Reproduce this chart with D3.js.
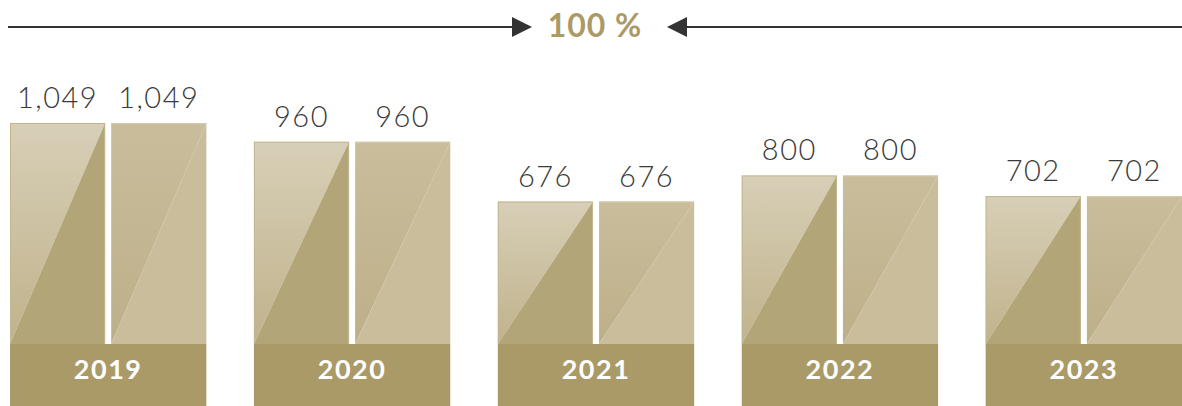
<!DOCTYPE html>
<html>
<head>
<meta charset="utf-8">
<script src="https://cdn.jsdelivr.net/npm/d3@7"></script>
<style>
  html, body { margin: 0; padding: 0; background: #fff; }
  svg { display: block; font-family: "Lato", "Open Sans", sans-serif; }
</style>
</head>
<body>
<div id="chart"></div>
<script>
// data
const years = ["2019", "2020", "2021", "2022", "2023"];
const seriesNames = ["a", "b"];
const valuesA = [1049, 960, 676, 800, 702];
const valuesB = [1049, 960, 676, 800, 702];
const headerLabel = "100 %";

const width = 1182, height = 406;
const baseTop = 344, baseBottom = 406;

const svg = d3.select("#chart").append("svg")
  .attr("width", width)
  .attr("height", height);

const defs = svg.append("defs");
function grad(id, c0, c1) {
  const g = defs.append("linearGradient").attr("id", id)
    .attr("x1", 0).attr("y1", 0).attr("x2", 0).attr("y2", 1);
  g.append("stop").attr("offset", "0%").attr("stop-color", c0);
  g.append("stop").attr("offset", "100%").attr("stop-color", c1);
}
grad("gLeftLight", "#d7cfb7", "#c0b28b");
grad("gRightUpper", "#c9bd9c", "#bdaf88");

// scales
const x = d3.scaleBand().domain(years).range([10, width]).paddingInner(0.195).paddingOuter(0);
const xi = d3.scaleBand().domain(seriesNames).range([0, x.bandwidth()]).paddingInner(0.06);
const y = d3.scaleLinear().domain([0, 1049]).range([baseTop, 123]);

const rows = years.map((yr, i) => ({ year: yr, a: valuesA[i], b: valuesB[i] }));

// header with arrows
const header = svg.append("g");
const hx = 595, hy = 27;
header.append("line").attr("x1", 8).attr("x2", 514).attr("y1", hy).attr("y2", hy)
  .attr("stroke", "#333").attr("stroke-width", 2);
header.append("path").attr("d", `M512,${hy - 10}L532,${hy}L512,${hy + 10}Z`).attr("fill", "#333");
header.append("line").attr("x1", 685).attr("x2", width).attr("y1", hy).attr("y2", hy)
  .attr("stroke", "#333").attr("stroke-width", 2);
header.append("path").attr("d", `M687,${hy - 10}L667,${hy}L687,${hy + 10}Z`).attr("fill", "#333");
header.append("text").attr("x", hx).attr("y", 37).attr("text-anchor", "middle")
  .attr("font-size", 32).attr("font-weight", 700).attr("fill", "#ab9a66")
  .attr("letter-spacing", 1).text(headerLabel);

const groups = svg.append("g").selectAll("g").data(rows).join("g")
  .attr("transform", d => `translate(${x(d.year)},0)`);

const bw = xi.bandwidth();

groups.each(function (d) {
  const g = d3.select(this);
  seriesNames.forEach(s => {
    const x0 = xi(s), x1 = x0 + bw, top = y(d[s]);
    const upper = `M${x0},${top}L${x1},${top}L${x0},${baseTop}Z`;
    const lower = `M${x1},${top}L${x1},${baseTop}L${x0},${baseTop}Z`;
    if (s === "a") {
      g.append("path").attr("d", upper).attr("fill", "url(#gLeftLight)");
      g.append("path").attr("d", lower).attr("fill", "#b2a577");
      g.append("rect").attr("x", x0 + 0.5).attr("y", top + 0.5).attr("width", bw - 1).attr("height", baseTop - top)
        .attr("fill", "none").attr("stroke", "#c3b68f").attr("stroke-width", 1);
    } else {
      g.append("path").attr("d", upper).attr("fill", "url(#gRightUpper)");
      g.append("path").attr("d", lower).attr("fill", "#c9bd9b");
      g.append("line").attr("x1", x0).attr("x2", x1).attr("y1", top + 0.5).attr("y2", top + 0.5)
        .attr("stroke", "#d4cab0").attr("stroke-width", 1);
    }
    g.append("text").attr("x", x0 + bw / 2).attr("y", top - 15)
      .attr("text-anchor", "middle").attr("font-size", 29).attr("font-weight", 300)
      .attr("fill", "#3a3a3a").attr("letter-spacing", 1.5)
      .text(d3.format(",")(d[s]));
  });

  g.append("rect").attr("x", 0).attr("y", baseTop)
    .attr("width", x.bandwidth()).attr("height", baseBottom - baseTop).attr("fill", "#aa9a67");
  g.append("text").attr("x", x.bandwidth() / 2).attr("y", 379)
    .attr("text-anchor", "middle").attr("font-size", 27).attr("font-weight", 700)
    .attr("fill", "#fff").attr("letter-spacing", 1.5).text(d.year);
});
</script>
</body>
</html>
